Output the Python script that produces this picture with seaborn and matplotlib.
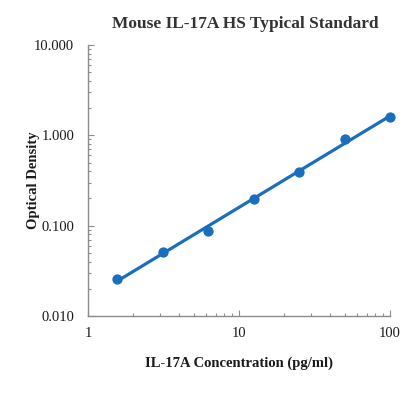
import numpy as np
import pandas as pd
import matplotlib
matplotlib.use("Agg")
import matplotlib.pyplot as plt
import matplotlib.ticker as mticker
import seaborn as sns

# standard curve readings
concentration = [1.5625, 3.125, 6.25, 12.5, 25, 50, 100]
optical_density = [0.0254, 0.0514, 0.0879, 0.195, 0.395, 0.91, 1.58]

title = "Mouse IL-17A HS Typical Standard"
x_label = "IL-17A Concentration (pg/ml)"
y_label = "Optical Density"
blue = "#1a6fbd"

df = pd.DataFrame({"conc": concentration, "od": optical_density})

# power trendline (straight line in log-log space)
slope, intercept = np.polyfit(np.log10(df["conc"]), np.log10(df["od"]), 1)
fit = pd.DataFrame({"conc": [df["conc"].min(), df["conc"].max()]})
fit["od"] = 10 ** (intercept + slope * np.log10(fit["conc"]))

sns.set_theme(style="white")
plt.rcParams["font.family"] = ["Liberation Serif", "DejaVu Serif"]
plt.rcParams["xtick.direction"] = "in"
plt.rcParams["ytick.direction"] = "in"

fig = plt.figure(figsize=(4.17, 3.94), dpi=100)
ax = fig.add_axes([88 / 417, 1 - 316 / 394, (390 - 88) / 417, (316 - 45) / 394])

sns.lineplot(data=fit, x="conc", y="od", ax=ax, color=blue, linewidth=2.3)
sns.scatterplot(data=df, x="conc", y="od", ax=ax, color=blue, s=55,
                edgecolor=blue, linewidth=0, zorder=3, clip_on=False)

ax.set_xscale("log")
ax.set_yscale("log")
ax.set_xlim(1, 100)
ax.set_ylim(0.01, 10)
ax.xaxis.set_major_formatter(mticker.FuncFormatter(lambda v, p: f"{v:g}"))
ax.yaxis.set_major_formatter(mticker.FuncFormatter(lambda v, p: f"{v:.3f}"))
ax.xaxis.set_minor_formatter(mticker.NullFormatter())
ax.yaxis.set_minor_formatter(mticker.NullFormatter())

for side in ["top", "right"]:
    ax.spines[side].set_visible(False)
for side in ["left", "bottom"]:
    ax.spines[side].set_color("#8c8c8c")
    ax.spines[side].set_linewidth(1.0)

ax.tick_params(which="both", direction="in", color="#8c8c8c", width=0.8,
               left=True, bottom=True)
ax.tick_params(which="major", length=4, labelsize=10.5, pad=8, labelcolor="#1a1a1a")
ax.tick_params(which="minor", length=2.5)
ax.tick_params(axis="y", which="major", pad=10)

ax.set_xlabel(x_label, fontsize=10.5, fontweight="bold", color="#1a1a1a", labelpad=12)
ax.set_ylabel(y_label, fontsize=10.5, fontweight="bold", color="#1a1a1a", labelpad=-4)
ax.set_title(title, fontsize=12.5, fontweight="bold", color="#333333", pad=12, x=0.52)

fig.savefig("out.png", dpi=100)
